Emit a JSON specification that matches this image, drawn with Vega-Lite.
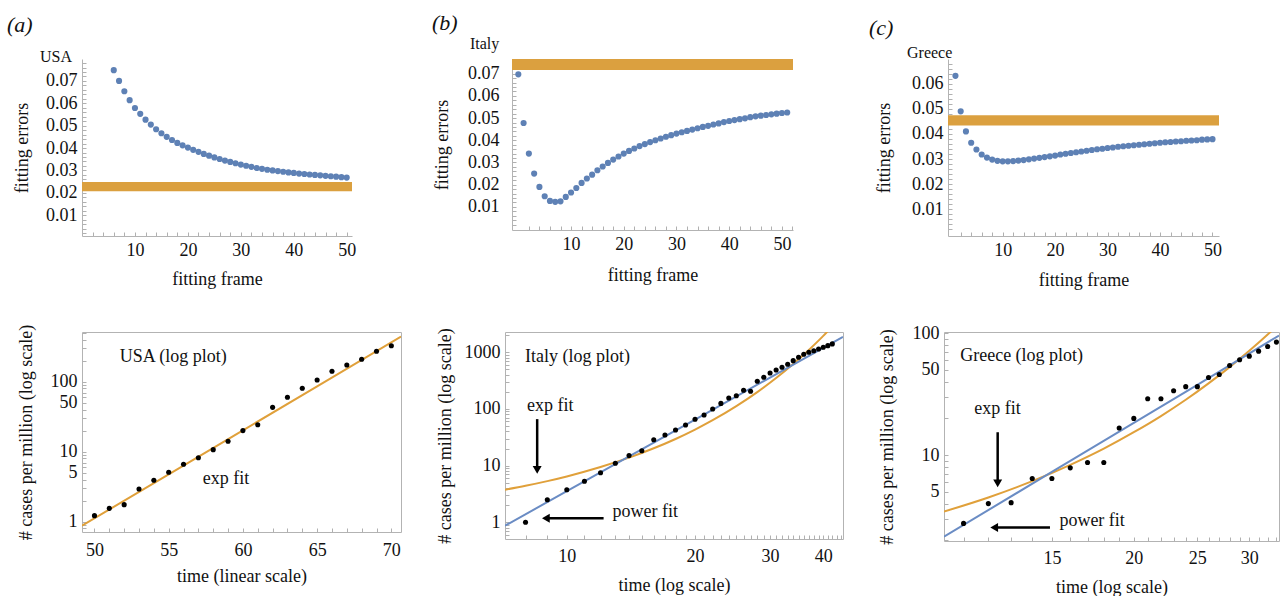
{
  "$schema": "https://vega.github.io/schema/vega-lite/v6.json",
  "background": "white",
  "padding": {"left": 7, "top": 11, "right": 0, "bottom": 0},
  "spacing": 34,
  "config": {
    "font": "Liberation Serif",
    "view": {"stroke": null},
    "axis": {
      "labelFont": "Liberation Serif", "titleFont": "Liberation Serif",
      "labelFontSize": 18, "titleFontSize": 18, "titleFontWeight": "normal",
      "labelColor": "#111", "titleColor": "#111",
      "domainColor": "#b3b3b3", "tickColor": "#b0b0b0",
      "tickSize": -4, "labelPadding": 9, "grid": false,
      "labelFlush": false, "labelOverlap": false, "titleBaseline": "middle"
    },
    "title": {"font": "Liberation Serif", "fontSize": 22, "fontStyle": "italic", "fontWeight": "normal", "color": "#111", "anchor": "start", "frame": "group"}
  },
  "vconcat": [
    {
      "spacing": 76,
      "hconcat": [
        {
          "width": 270, "height": 177,
          "title": {"text": "(a)", "dx": -75, "offset": 12},
          "encoding": {
            "x": {"field": "t", "type": "quantitative", "scale": {"domain": [0, 51], "nice": false, "zero": false},
              "axis": {"values": [2, 4, 6, 8, 10, 12, 14, 16, 18, 20, 22, 24, 26, 28, 30, 32, 34, 36, 38, 40, 42, 44, 46, 48, 50], "labelExpr": "datum.value % 10 === 0 ? datum.label : ''", "title": "fitting frame", "titleY": 43}},
            "y": {"field": "v", "type": "quantitative", "scale": {"domain": [0.0007, 0.0798], "nice": false, "zero": false},
              "axis": {"values": [0.002, 0.004, 0.006, 0.008, 0.01, 0.012, 0.014, 0.016, 0.018, 0.02, 0.022, 0.024, 0.026, 0.028, 0.03, 0.032, 0.034, 0.036, 0.038, 0.04, 0.042, 0.044, 0.046, 0.048, 0.05, 0.052, 0.054, 0.056, 0.058, 0.06, 0.062, 0.064, 0.066, 0.068, 0.07, 0.072, 0.074, 0.076, 0.078], "labelExpr": "round(datum.value * 1000) % 10 === 0 ? format(datum.value, '.2f') : ''", "title": "fitting errors", "titleX": -60}}
          },
          "layer": [
            {"data": {"values": [{"t": 0, "t2": 51, "v": 0.0207, "v2": 0.0248}]},
              "mark": {"type": "rect", "color": "#DBA03F"},
              "encoding": {"x2": {"field": "t2"}, "y2": {"field": "v2"}}},
            {"data": {"values": [
              {"t": 6, "v": 0.0748}, {"t": 7, "v": 0.0700}, {"t": 8, "v": 0.0654}, {"t": 9, "v": 0.0614}, {"t": 10, "v": 0.0579},
              {"t": 11, "v": 0.0553}, {"t": 12, "v": 0.0527}, {"t": 13, "v": 0.0505}, {"t": 14, "v": 0.0484}, {"t": 15, "v": 0.0466},
              {"t": 16, "v": 0.0450}, {"t": 17, "v": 0.0436}, {"t": 18, "v": 0.0423}, {"t": 19, "v": 0.0412}, {"t": 20, "v": 0.0402},
              {"t": 21, "v": 0.0392}, {"t": 22, "v": 0.0383}, {"t": 23, "v": 0.0374}, {"t": 24, "v": 0.0366}, {"t": 25, "v": 0.0358},
              {"t": 26, "v": 0.0351}, {"t": 27, "v": 0.0344}, {"t": 28, "v": 0.0338}, {"t": 29, "v": 0.0332}, {"t": 30, "v": 0.0326},
              {"t": 31, "v": 0.0321}, {"t": 32, "v": 0.0316}, {"t": 33, "v": 0.0311}, {"t": 34, "v": 0.0307}, {"t": 35, "v": 0.0303},
              {"t": 36, "v": 0.0300}, {"t": 37, "v": 0.0297}, {"t": 38, "v": 0.0294}, {"t": 39, "v": 0.0291}, {"t": 40, "v": 0.0289},
              {"t": 41, "v": 0.0286}, {"t": 42, "v": 0.0284}, {"t": 43, "v": 0.0282}, {"t": 44, "v": 0.0280}, {"t": 45, "v": 0.0278},
              {"t": 46, "v": 0.0276}, {"t": 47, "v": 0.0274}, {"t": 48, "v": 0.0272}, {"t": 49, "v": 0.0270}, {"t": 50, "v": 0.0268}
            ]},
              "mark": {"type": "circle", "size": 38, "color": "#5E81B5", "opacity": 1}},
            {"data": {"values": [{"t": -7.94, "v": 0.0807, "label": "USA"}]},
              "mark": {"type": "text", "align": "left", "baseline": "middle", "fontSize": 16, "font": "Liberation Serif", "color": "#111"},
              "encoding": {"text": {"field": "label"}}}
          ]
        },
        {
          "width": 281, "height": 171,
          "title": {"text": "(b)", "dx": -80, "offset": 1},
          "encoding": {
            "x": {"field": "t", "type": "quantitative", "scale": {"domain": [-1.2, 52.1], "nice": false, "zero": false},
              "axis": {"values": [2, 4, 6, 8, 10, 12, 14, 16, 18, 20, 22, 24, 26, 28, 30, 32, 34, 36, 38, 40, 42, 44, 46, 48, 50, 52], "labelExpr": "datum.value % 10 === 0 ? datum.label : ''", "title": "fitting frame", "titleY": 45}},
            "y": {"field": "v", "type": "quantitative", "scale": {"domain": [-0.0004, 0.0766], "nice": false, "zero": false},
              "axis": {"values": [0.002, 0.004, 0.006, 0.008, 0.01, 0.012, 0.014, 0.016, 0.018, 0.02, 0.022, 0.024, 0.026, 0.028, 0.03, 0.032, 0.034, 0.036, 0.038, 0.04, 0.042, 0.044, 0.046, 0.048, 0.05, 0.052, 0.054, 0.056, 0.058, 0.06, 0.062, 0.064, 0.066, 0.068, 0.07, 0.072, 0.074, 0.076], "labelExpr": "round(datum.value * 1000) % 10 === 0 ? format(datum.value, '.2f') : ''", "title": "fitting errors", "titleX": -70, "labelPadding": 17}}
          },
          "layer": [
            {"data": {"values": [{"t": -1.2, "t2": 52.1, "v": 0.0716, "v2": 0.0766}]},
              "mark": {"type": "rect", "color": "#DBA03F"},
              "encoding": {"x2": {"field": "t2"}, "y2": {"field": "v2"}}},
            {"data": {"values": [
              {"t": 0, "v": 0.0697}, {"t": 1, "v": 0.0478}, {"t": 2, "v": 0.0340}, {"t": 3, "v": 0.0250}, {"t": 4, "v": 0.0190},
              {"t": 5, "v": 0.0148}, {"t": 6, "v": 0.0127}, {"t": 7, "v": 0.0123}, {"t": 8, "v": 0.0125}, {"t": 9, "v": 0.0145},
              {"t": 10, "v": 0.0165}, {"t": 11, "v": 0.0185}, {"t": 12, "v": 0.0208}, {"t": 13, "v": 0.0228}, {"t": 14, "v": 0.0245},
              {"t": 15, "v": 0.0265}, {"t": 16, "v": 0.0282}, {"t": 17, "v": 0.0298}, {"t": 18, "v": 0.0313}, {"t": 19, "v": 0.0327},
              {"t": 20, "v": 0.0340}, {"t": 21, "v": 0.0352}, {"t": 22, "v": 0.0363}, {"t": 23, "v": 0.0374}, {"t": 24, "v": 0.0383},
              {"t": 25, "v": 0.0392}, {"t": 26, "v": 0.0400}, {"t": 27, "v": 0.0408}, {"t": 28, "v": 0.0416}, {"t": 29, "v": 0.0423},
              {"t": 30, "v": 0.0430}, {"t": 31, "v": 0.0436}, {"t": 32, "v": 0.0442}, {"t": 33, "v": 0.0448}, {"t": 34, "v": 0.0454},
              {"t": 35, "v": 0.0460}, {"t": 36, "v": 0.0465}, {"t": 37, "v": 0.0471}, {"t": 38, "v": 0.0476}, {"t": 39, "v": 0.0482},
              {"t": 40, "v": 0.0487}, {"t": 41, "v": 0.0491}, {"t": 42, "v": 0.0495}, {"t": 43, "v": 0.0499}, {"t": 44, "v": 0.0504},
              {"t": 45, "v": 0.0508}, {"t": 46, "v": 0.0511}, {"t": 47, "v": 0.0514}, {"t": 48, "v": 0.0517}, {"t": 49, "v": 0.0520},
              {"t": 50, "v": 0.0523}, {"t": 51, "v": 0.0525}
            ]},
              "mark": {"type": "circle", "size": 38, "color": "#5E81B5", "opacity": 1}},
            {"data": {"values": [{"t": -9.17, "v": 0.0834, "label": "Italy"}]},
              "mark": {"type": "text", "align": "left", "baseline": "middle", "fontSize": 16, "font": "Liberation Serif", "color": "#111"},
              "encoding": {"text": {"field": "label"}}}
          ]
        },
        {
          "width": 271, "height": 177,
          "title": {"text": "(c)", "dx": -79, "offset": 5},
          "encoding": {
            "x": {"field": "t", "type": "quantitative", "scale": {"domain": [-0.42, 51.24], "nice": false, "zero": false},
              "axis": {"values": [2, 4, 6, 8, 10, 12, 14, 16, 18, 20, 22, 24, 26, 28, 30, 32, 34, 36, 38, 40, 42, 44, 46, 48, 50], "labelExpr": "datum.value % 10 === 0 ? datum.label : ''", "title": "fitting frame", "titleY": 44}},
            "y": {"field": "v", "type": "quantitative", "scale": {"domain": [-0.0006, 0.0698], "nice": false, "zero": false},
              "axis": {"values": [0.002, 0.004, 0.006, 0.008, 0.01, 0.012, 0.014, 0.016, 0.018, 0.02, 0.022, 0.024, 0.026, 0.028, 0.03, 0.032, 0.034, 0.036, 0.038, 0.04, 0.042, 0.044, 0.046, 0.048, 0.05, 0.052, 0.054, 0.056, 0.058, 0.06, 0.062, 0.064, 0.066, 0.068], "labelExpr": "round(datum.value * 1000) % 10 === 0 ? format(datum.value, '.2f') : ''", "title": "fitting errors", "titleX": -64}}
          },
          "layer": [
            {"data": {"values": [{"t": -0.42, "t2": 51.24, "v": 0.0434, "v2": 0.0474}]},
              "mark": {"type": "rect", "color": "#DBA03F"},
              "encoding": {"x2": {"field": "t2"}, "y2": {"field": "v2"}}},
            {"data": {"values": [
              {"t": 1, "v": 0.0631}, {"t": 2, "v": 0.0490}, {"t": 3, "v": 0.0410}, {"t": 4, "v": 0.0365}, {"t": 5, "v": 0.0338},
              {"t": 6, "v": 0.0318}, {"t": 7, "v": 0.0306}, {"t": 8, "v": 0.0298}, {"t": 9, "v": 0.0293}, {"t": 10, "v": 0.0291},
              {"t": 11, "v": 0.0291}, {"t": 12, "v": 0.0292}, {"t": 13, "v": 0.0294}, {"t": 14, "v": 0.0296}, {"t": 15, "v": 0.0299},
              {"t": 16, "v": 0.0302}, {"t": 17, "v": 0.0305}, {"t": 18, "v": 0.0308}, {"t": 19, "v": 0.0311}, {"t": 20, "v": 0.0314},
              {"t": 21, "v": 0.0318}, {"t": 22, "v": 0.0321}, {"t": 23, "v": 0.0324}, {"t": 24, "v": 0.0327}, {"t": 25, "v": 0.0330},
              {"t": 26, "v": 0.0333}, {"t": 27, "v": 0.0336}, {"t": 28, "v": 0.0339}, {"t": 29, "v": 0.0341}, {"t": 30, "v": 0.0344},
              {"t": 31, "v": 0.0346}, {"t": 32, "v": 0.0349}, {"t": 33, "v": 0.0351}, {"t": 34, "v": 0.0353}, {"t": 35, "v": 0.0355},
              {"t": 36, "v": 0.0357}, {"t": 37, "v": 0.0359}, {"t": 38, "v": 0.0361}, {"t": 39, "v": 0.0363}, {"t": 40, "v": 0.0365},
              {"t": 41, "v": 0.0367}, {"t": 42, "v": 0.0368}, {"t": 43, "v": 0.0370}, {"t": 44, "v": 0.0371}, {"t": 45, "v": 0.0373},
              {"t": 46, "v": 0.0374}, {"t": 47, "v": 0.0375}, {"t": 48, "v": 0.0377}, {"t": 49, "v": 0.0378}, {"t": 50, "v": 0.0379}
            ]},
              "mark": {"type": "circle", "size": 38, "color": "#5E81B5", "opacity": 1}},
            {"data": {"values": [{"t": -8.23, "v": 0.0722, "label": "Greece"}]},
              "mark": {"type": "text", "align": "left", "baseline": "middle", "fontSize": 16, "font": "Liberation Serif", "color": "#111"},
              "encoding": {"text": {"field": "label"}}}
          ]
        }
      ]
    },
    {
      "spacing": 33,
      "hconcat": [
        {
          "width": 319, "height": 200,
          "view": {"stroke": "#b3b3b3", "strokeWidth": 1},
          "encoding": {
            "x": {"field": "t", "type": "quantitative", "scale": {"domain": [49.16, 70.65], "nice": false, "zero": false},
              "axis": {"values": [50, 51, 52, 53, 54, 55, 56, 57, 58, 59, 60, 61, 62, 63, 64, 65, 66, 67, 68, 69, 70], "labelExpr": "datum.value % 5 === 0 ? datum.label : ''", "title": "time (linear scale)", "titleY": 44, "domain": false, "labelPadding": 13}},
            "y": {"field": "y", "type": "quantitative", "scale": {"type": "log", "domain": [0.712, 513], "nice": false},
              "axis": {"values": [0.8, 0.9, 1, 2, 3, 4, 5, 6, 7, 8, 9, 10, 20, 30, 40, 50, 60, 70, 80, 90, 100, 200, 300, 400, 500], "format": "d", "labelExpr": "indexof([1, 5, 10, 50, 100], datum.value) >= 0 ? datum.label : ''", "title": "# cases per million (log scale)", "titleX": -56, "domain": false}}
          },
          "layer": [
            {"data": {"values": [{"t": 49.16, "y": 0.877}, {"t": 55, "y": 4.75}, {"t": 60, "y": 20.2}, {"t": 65, "y": 85.9}, {"t": 70.65, "y": 441}]},
              "mark": {"type": "line", "color": "#E0A03A", "strokeWidth": 2, "clip": true}},
            {"data": {"values": [
              {"t": 50, "y": 1.22}, {"t": 51, "y": 1.55}, {"t": 52, "y": 1.75}, {"t": 53, "y": 2.93}, {"t": 54, "y": 3.9},
              {"t": 55, "y": 5.08}, {"t": 56, "y": 6.6}, {"t": 57, "y": 8.2}, {"t": 58, "y": 10.7}, {"t": 59, "y": 14.1},
              {"t": 60, "y": 20}, {"t": 61, "y": 24.3}, {"t": 62, "y": 43}, {"t": 63, "y": 60}, {"t": 64, "y": 80.5},
              {"t": 65, "y": 106}, {"t": 66, "y": 141}, {"t": 67, "y": 173}, {"t": 68, "y": 209}, {"t": 69, "y": 272}, {"t": 70, "y": 327}
            ]},
              "mark": {"type": "circle", "size": 26, "color": "#000", "opacity": 1}},
            {"data": {"values": [{"t": 51.7, "y": 225, "label": "USA (log plot)"}, {"t": 57.3, "y": 4.07, "label": "exp fit"}]},
              "mark": {"type": "text", "align": "left", "baseline": "middle", "fontSize": 18, "font": "Liberation Serif", "color": "#111"},
              "encoding": {"text": {"field": "label"}}}
          ]
        },
        {
          "width": 338, "height": 207,
          "view": {"stroke": "#b3b3b3", "strokeWidth": 1},
          "encoding": {
            "x": {"field": "t", "type": "quantitative", "scale": {"type": "log", "domain": [7.16, 44.5], "nice": false},
              "axis": {"values": [8, 9, 10, 11, 12, 13, 14, 15, 16, 17, 18, 19, 20, 21, 22, 23, 24, 25, 26, 27, 28, 29, 30, 31, 32, 33, 34, 35, 36, 37, 38, 39, 40, 41, 42, 43, 44], "format": "d", "labelExpr": "datum.value % 10 === 0 ? datum.label : ''", "title": "time (log scale)", "titleY": 46, "domain": false, "labelPadding": 12}},
            "y": {"field": "y", "type": "quantitative", "scale": {"type": "log", "domain": [0.508, 2270], "nice": false},
              "axis": {"values": [0.6, 0.7, 0.8, 0.9, 1, 2, 3, 4, 5, 6, 7, 8, 9, 10, 20, 30, 40, 50, 60, 70, 80, 90, 100, 200, 300, 400, 500, 600, 700, 800, 900, 1000, 2000], "format": "d", "labelExpr": "indexof([1, 10, 100, 1000], datum.value) >= 0 ? datum.label : ''", "title": "# cases per million (log scale)", "titleX": -60, "domain": false}}
          },
          "layer": [
            {"data": {"values": [
              {"t": 7.16, "y": 3.76}, {"t": 8, "y": 4.41}, {"t": 9, "y": 5.33}, {"t": 10, "y": 6.45}, {"t": 12, "y": 9.44},
              {"t": 14, "y": 13.8}, {"t": 16, "y": 20.2}, {"t": 18, "y": 29.5}, {"t": 20, "y": 43.2}, {"t": 22, "y": 63.2},
              {"t": 25, "y": 112}, {"t": 28, "y": 198}, {"t": 31, "y": 350}, {"t": 34, "y": 619}, {"t": 37, "y": 1096},
              {"t": 40, "y": 1936}, {"t": 42, "y": 2860}
            ]},
              "mark": {"type": "line", "color": "#E0A03A", "strokeWidth": 2, "clip": true, "interpolate": "monotone"}},
            {"data": {"values": [{"t": 7.16, "y": 0.87}, {"t": 10, "y": 3.54}, {"t": 20, "y": 65}, {"t": 30, "y": 357}, {"t": 44.5, "y": 1860}]},
              "mark": {"type": "line", "color": "#6A8CC4", "strokeWidth": 2, "clip": true}},
            {"data": {"values": [
              {"t": 8, "y": 1.0}, {"t": 9, "y": 2.5}, {"t": 10, "y": 3.76}, {"t": 11, "y": 5.3}, {"t": 12, "y": 7.5},
              {"t": 13, "y": 11}, {"t": 14, "y": 15}, {"t": 15, "y": 18.3}, {"t": 16, "y": 28.6}, {"t": 17, "y": 34.7},
              {"t": 18, "y": 42.5}, {"t": 19, "y": 52}, {"t": 20, "y": 65.6}, {"t": 21, "y": 78}, {"t": 22, "y": 99.6},
              {"t": 23, "y": 125}, {"t": 24, "y": 156}, {"t": 25, "y": 171}, {"t": 26, "y": 213}, {"t": 27, "y": 205},
              {"t": 28, "y": 307}, {"t": 29, "y": 361}, {"t": 30, "y": 430}, {"t": 31, "y": 485}, {"t": 32, "y": 542},
              {"t": 33, "y": 612}, {"t": 34, "y": 710}, {"t": 35, "y": 815}, {"t": 36, "y": 920}, {"t": 37, "y": 996},
              {"t": 38, "y": 1062}, {"t": 39, "y": 1137}, {"t": 40, "y": 1220}, {"t": 41, "y": 1305}, {"t": 42, "y": 1400}
            ]},
              "mark": {"type": "circle", "size": 26, "color": "#000", "opacity": 1}},
            {"data": {"values": [
              {"t": 7.98, "y": 813, "label": "Italy (log plot)"},
              {"t": 8.06, "y": 111, "label": "exp fit"},
              {"t": 12.8, "y": 1.5, "label": "power fit"}
            ]},
              "mark": {"type": "text", "align": "left", "baseline": "middle", "fontSize": 18, "font": "Liberation Serif", "color": "#111"},
              "encoding": {"text": {"field": "label"}}},
            {"data": {"values": [{"t": 8.52, "t2": 8.52, "y": 66, "y2": 8.37}, {"t": 12.2, "t2": 8.93, "y": 1.18, "y2": 1.18}]},
              "mark": {"type": "rule", "color": "#000", "strokeWidth": 2.5},
              "encoding": {"x2": {"field": "t2"}, "y2": {"field": "y2"}}},
            {"data": {"values": [{"t": 8.52, "y": 8.37}]},
              "mark": {"type": "point", "shape": "triangle-down", "filled": true, "size": 80, "color": "#000", "opacity": 1}},
            {"data": {"values": [{"t": 8.93, "y": 1.18}]},
              "mark": {"type": "point", "shape": "triangle-left", "filled": true, "size": 80, "color": "#000", "opacity": 1}}
          ]
        },
        {
          "width": 335, "height": 209,
          "view": {"stroke": "#b3b3b3", "strokeWidth": 1},
          "encoding": {
            "x": {"field": "t", "type": "quantitative", "scale": {"type": "log", "domain": [10.27, 33.3], "nice": false},
              "axis": {"values": [11, 12, 13, 14, 15, 16, 17, 18, 19, 20, 21, 22, 23, 24, 25, 26, 27, 28, 29, 30, 31, 32, 33], "format": "d", "labelExpr": "datum.value % 5 === 0 ? datum.label : ''", "title": "time (log scale)", "titleY": 46, "domain": false, "labelPadding": 12}},
            "y": {"field": "y", "type": "quantitative", "scale": {"type": "log", "domain": [1.98, 102], "nice": false},
              "axis": {"values": [2, 3, 4, 5, 6, 7, 8, 9, 10, 20, 30, 40, 50, 60, 70, 80, 90, 100], "format": "d", "labelExpr": "indexof([5, 10, 50, 100], datum.value) >= 0 ? datum.label : ''", "title": "# cases per million (log scale)", "titleX": -57, "domain": false}}
          },
          "layer": [
            {"data": {"values": [
              {"t": 10.27, "y": 3.45}, {"t": 12, "y": 4.5}, {"t": 14, "y": 6.12}, {"t": 16, "y": 8.32}, {"t": 18, "y": 11.3},
              {"t": 20, "y": 15.4}, {"t": 22, "y": 20.9}, {"t": 24, "y": 28.4}, {"t": 26, "y": 38.7}, {"t": 28, "y": 52.6},
              {"t": 30, "y": 71.5}, {"t": 32, "y": 97.2}, {"t": 33.3, "y": 119}
            ]},
              "mark": {"type": "line", "color": "#E0A03A", "strokeWidth": 2, "clip": true, "interpolate": "monotone"}},
            {"data": {"values": [{"t": 10.27, "y": 2.15}, {"t": 15, "y": 7.28}, {"t": 20, "y": 18.4}, {"t": 25, "y": 37.7}, {"t": 33.3, "y": 95.5}]},
              "mark": {"type": "line", "color": "#6A8CC4", "strokeWidth": 2, "clip": true}},
            {"data": {"values": [
              {"t": 11, "y": 2.76}, {"t": 12, "y": 4.01}, {"t": 13, "y": 4.08}, {"t": 14, "y": 6.44}, {"t": 15, "y": 6.44},
              {"t": 16, "y": 7.87}, {"t": 17, "y": 8.71}, {"t": 18, "y": 8.7}, {"t": 19, "y": 16.7}, {"t": 20, "y": 20},
              {"t": 21, "y": 29}, {"t": 22, "y": 29}, {"t": 23, "y": 33.7}, {"t": 24, "y": 36.4}, {"t": 25, "y": 36.4},
              {"t": 26, "y": 43.2}, {"t": 27, "y": 45.7}, {"t": 28, "y": 54.2}, {"t": 29, "y": 60.4}, {"t": 30, "y": 64.7},
              {"t": 31, "y": 71.1}, {"t": 32, "y": 77.6}, {"t": 33, "y": 84.3}
            ]},
              "mark": {"type": "circle", "size": 26, "color": "#000", "opacity": 1}},
            {"data": {"values": [
              {"t": 10.87, "y": 64.7, "label": "Greece (log plot)"},
              {"t": 11.42, "y": 23.9, "label": "exp fit"},
              {"t": 15.4, "y": 2.88, "label": "power fit"}
            ]},
              "mark": {"type": "text", "align": "left", "baseline": "middle", "fontSize": 18, "font": "Liberation Serif", "color": "#111"},
              "encoding": {"text": {"field": "label"}}},
            {"data": {"values": [{"t": 12.4, "t2": 12.4, "y": 15.4, "y2": 5.86}, {"t": 14.9, "t2": 12.25, "y": 2.55, "y2": 2.55}]},
              "mark": {"type": "rule", "color": "#000", "strokeWidth": 2.5},
              "encoding": {"x2": {"field": "t2"}, "y2": {"field": "y2"}}},
            {"data": {"values": [{"t": 12.4, "y": 5.86}]},
              "mark": {"type": "point", "shape": "triangle-down", "filled": true, "size": 80, "color": "#000", "opacity": 1}},
            {"data": {"values": [{"t": 12.25, "y": 2.55}]},
              "mark": {"type": "point", "shape": "triangle-left", "filled": true, "size": 80, "color": "#000", "opacity": 1}}
          ]
        }
      ]
    }
  ]
}
